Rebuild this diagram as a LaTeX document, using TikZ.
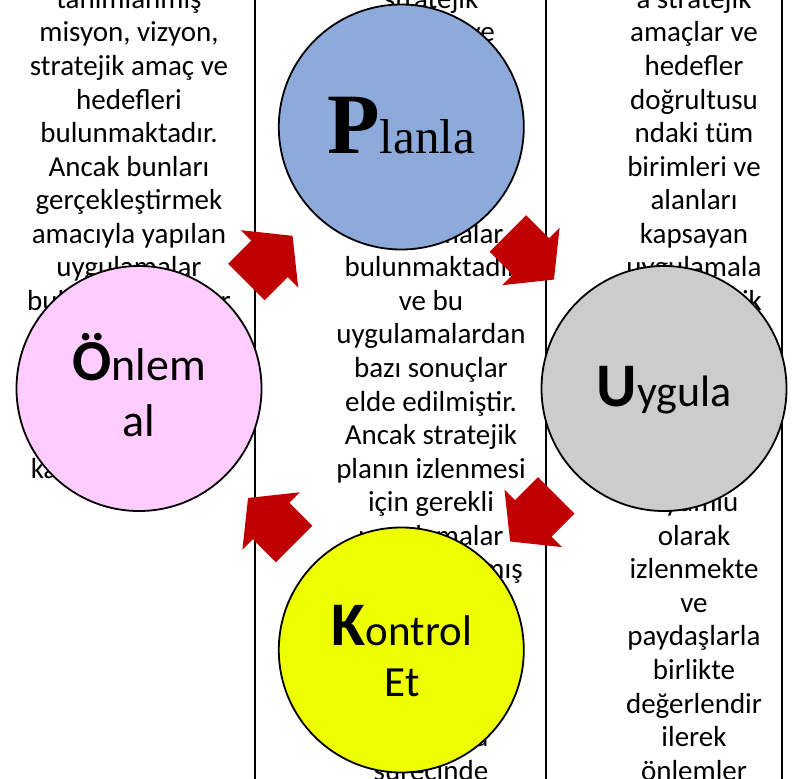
\documentclass[tikz,border=0pt]{standalone}
\usepackage{fontspec}
\setmainfont{Carlito}
\newfontfamily\serifP{Liberation Serif}
\definecolor{planc}{HTML}{8EAADB}
\definecolor{pinkc}{HTML}{FFCCFF}
\definecolor{grayc}{HTML}{CCCCCC}
\definecolor{yelc}{HTML}{EEFF00}
\definecolor{arrred}{HTML}{C00000}
\tikzset{
  pics/redarrow/.style={code={
    \fill[arrred] (-32.6,-25.8) -- (0,-25.8) -- (0,-40.6) -- (32.6,0) -- (0,40.6) -- (0,25.8) -- (-32.6,25.8) -- cycle;}},
}
\begin{document}
\begin{tikzpicture}[x=1pt,y=-1pt,
  circ/.style={circle, draw=black, line width=1.8pt, minimum size=245pt, inner sep=0pt},
  bodytxt/.style={anchor=base, inner sep=0pt, font=\fontsize{29}{33.55}\selectfont},
  ctxt/.style={anchor=base, inner sep=0pt},
  colline/.style={line width=1.6pt}]
\useasboundingbox (0,0) rectangle (794,778);
\clip (0,0) rectangle (794,778);
\fill[white] (0,0) rectangle (794,778);
% column borders
\draw[colline] (255,-10) -- (255,790);
\draw[colline] (546,-10) -- (546,790);
\draw[colline] (782,-10) -- (782,790);
% left column text
\foreach \t [count=\k from 0] in {tanımlanmış, {misyon, vizyon,}, stratejik amaç ve, hedefleri, bulunmaktadır., Ancak bunları, gerçekleştirmek, amacıyla yapılan, uygulamalar, bulunmaktadırlar, {}, {}, {}, {}, kapsayan planlar}
  {\node[bodytxt] (L\k) at (129,8.45+33.55*\k) {\t};}
% middle column text
\foreach \t [count=\k from 0] in {stratejik, amaçlar ve, {}, {}, {}, {}, {}, uygulamalar, bulunmaktadır, ve bu, uygulamalardan, bazı sonuçlar, elde edilmiştir., Ancak stratejik, planın izlenmesi, için gerekli, uygulamalar, oluşturulmamış, {}, {}, {}, {}, uygulama, sürecinde}
  {\node[bodytxt] (M\k) at (431,8.45+33.55*\k) {\t};}
% right column text
\foreach \t [count=\k from 0] in {a stratejik, amaçlar ve, hedefler, doğrultusu, ndaki tüm, birimleri ve, alanları, kapsayan, uygulamala, r sistematik, {}, {}, {}, {}, {}, uyumlu, olarak, izlenmekte, ve, paydaşlarla, birlikte, değerlendir, ilerek, önlemler}
  {\node[bodytxt] (R\k) at (694,8.45+33.55*\k) {\t};}
% circles
\node[circ, fill=planc] (plan) at (401.3,127) {};
\node[circ, fill=pinkc] (onlem) at (139,388.5) {};
\node[circ, fill=grayc] (uygula) at (664,388.5) {};
\node[circ, fill=yelc] (kontrol) at (401.3,650) {};
% circle texts
\node[ctxt] (plantxt) at (401.3,153.3) {\serifP{\fontsize{86}{86}\selectfont\bfseries P}\fontsize{49}{49}\selectfont lanla};
\node[ctxt] (onlemtxt) at (139,380) {{\fontsize{58}{58}\selectfont\bfseries Ö}\fontsize{46}{46}\selectfont nlem};
\node[ctxt] (altxt) at (139,436.7) {\fontsize{46}{46}\selectfont al};
\node[ctxt] (uygtxt) at (664,406) {{\fontsize{62}{62}\selectfont\bfseries U}\fontsize{44}{44}\selectfont ygula};
\node[ctxt] (kontxt) at (402,645) {{\fontsize{62}{62}\selectfont\bfseries K}\fontsize{43}{43}\selectfont ontrol};
\node[ctxt] (ettxt) at (402,696.7) {\fontsize{43}{43}\selectfont Et};
% arrows
\pic[rotate=45] at (269.5,258.9) {redarrow};
\pic[rotate=-45] at (530.9,256.5) {redarrow};
\pic[rotate=-135] at (533.2,518.4) {redarrow};
\pic[rotate=135] at (271.1,521) {redarrow};
\end{tikzpicture}
\end{document}
